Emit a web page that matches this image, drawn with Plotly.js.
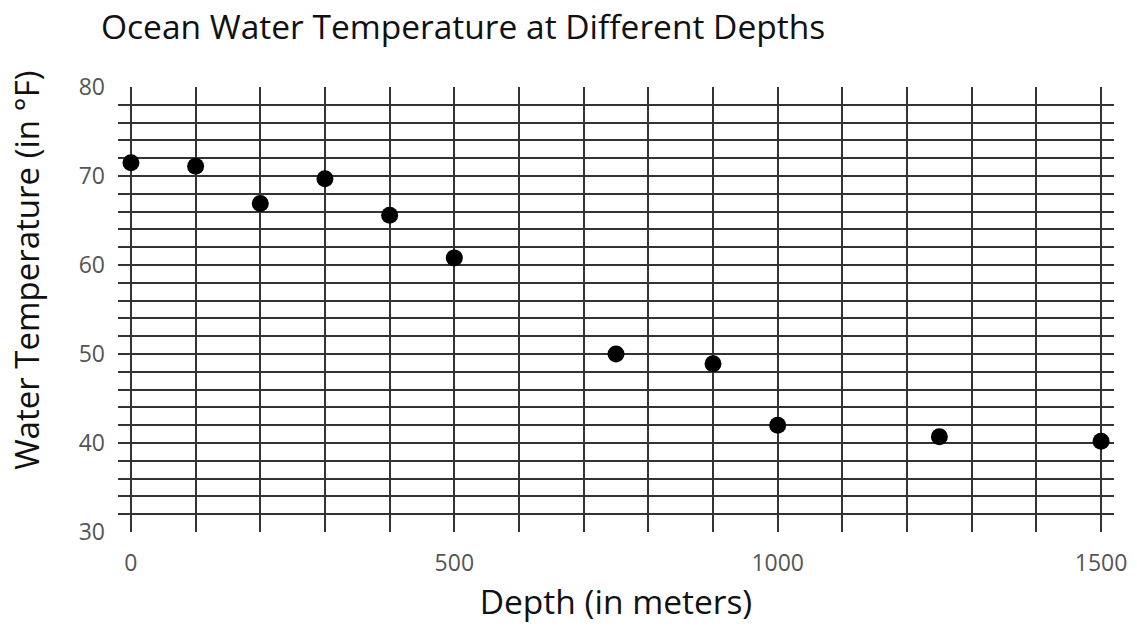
<!DOCTYPE html>
<html>
<head>
<meta charset="utf-8">
<script src="https://cdn.plot.ly/plotly-3.0.1.min.js"></script>
<style>html,body{margin:0;padding:0;background:#fff;}#chart{width:1137px;height:631px;}</style>
</head>
<body>
<div id="chart"></div>
<script>
const depths = [0, 100, 200, 300, 400, 500, 750, 900, 1000, 1250, 1500];
const temperatures = [71.5, 71.1, 66.9, 69.7, 65.6, 60.8, 50.0, 48.9, 42.0, 40.7, 40.2];
const xTickVals = [0, 500, 1000, 1500];
const yTickVals = [30, 40, 50, 60, 70, 80];
const chartTitle = 'Ocean Water Temperature at Different Depths';
const xTitle = 'Depth (in meters)';
const yTitle = 'Water Temperature (in °F)';

const FONT = '"Open Sans", Lato, sans-serif';

const trace = {
  x: depths,
  y: temperatures,
  type: 'scatter',
  mode: 'markers',
  marker: {color: '#000', size: 17},
  cliponaxis: false,
  hoverinfo: 'x+y'
};

const layout = {
  width: 1137,
  height: 631,
  margin: {l: 118, r: 23, t: 87, b: 99},
  paper_bgcolor: '#fff',
  plot_bgcolor: '#fff',
  font: {family: FONT, color: '#111'},
  showlegend: false,
  title: {
    text: chartTitle,
    font: {family: FONT, size: 33.5, color: '#111'},
    x: 0, xref: 'paper', xanchor: 'left',
    y: 0.957, yanchor: 'middle',
    pad: {l: -17}
  },
  xaxis: {
    range: [-20, 1520],
    tickmode: 'array',
    tickvals: xTickVals,
    ticktext: xTickVals.map(String),
    showgrid: false,
    zeroline: false,
    showline: false,
    ticks: '',
    ticklabelstandoff: 15,
    tickfont: {family: FONT, size: 23, color: '#555'},
    title: {text: xTitle, font: {family: FONT, size: 33.5, color: '#111'}, standoff: 10},
    minor: {dtick: 100, tick0: 0, showgrid: true, gridcolor: '#333', gridwidth: 2}
  },
  yaxis: {
    range: [30, 80],
    tickmode: 'array',
    tickvals: yTickVals,
    ticktext: yTickVals.map(String),
    showgrid: false,
    zeroline: false,
    showline: false,
    ticks: '',
    ticklabelstandoff: 12,
    tickfont: {family: FONT, size: 23, color: '#555'},
    minor: {dtick: 2, tick0: 30, showgrid: true, gridcolor: '#333', gridwidth: 2}
  },
  annotations: [{
    text: yTitle,
    xref: 'paper', yref: 'paper',
    x: -0.0914, y: 0.589,
    xanchor: 'center', yanchor: 'middle',
    textangle: -90,
    showarrow: false,
    font: {family: FONT, size: 33, color: '#111'}
  }]
};

Plotly.newPlot('chart', [trace], layout, {displayModeBar: false, staticPlot: true});
</script>
</body>
</html>
